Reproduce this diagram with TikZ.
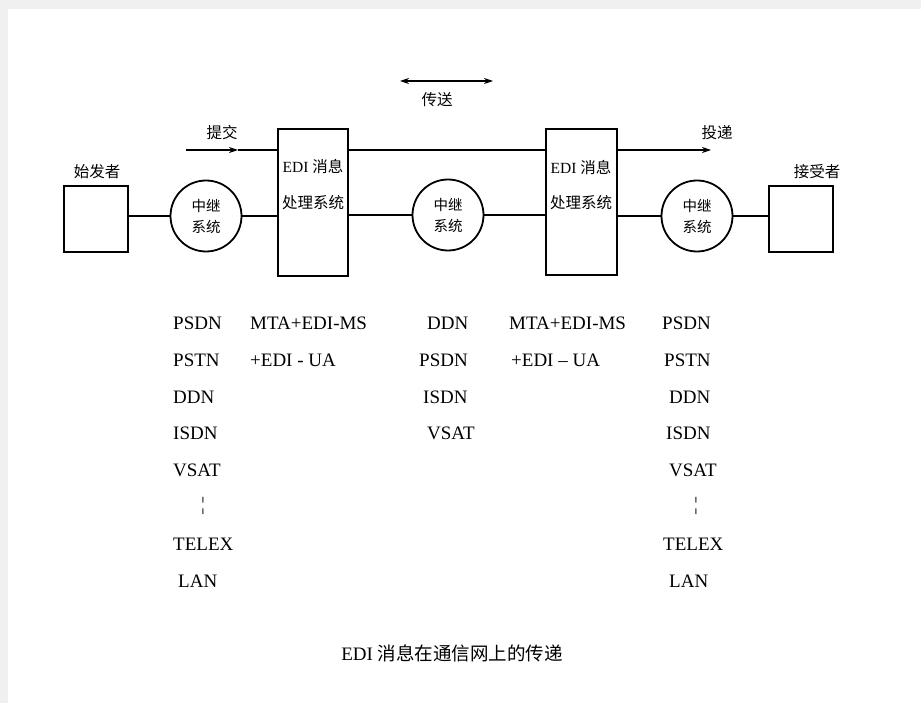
\documentclass[tikz,border=0pt]{standalone}
\usepackage{fontspec}
\setmainfont{Liberation Serif}
\newfontfamily\cjk{Noto Sans CJK SC}
\usetikzlibrary{arrows.meta}
\tikzset{
  boxthick/.style={draw, line width=2pt, inner sep=0pt},
  relay/.style={draw, circle, line width=1.8pt, minimum size=71pt, inner sep=0pt, align=center, font=\cjk\fontsize{14.5}{21}\selectfont},
  link/.style={line width=1.1pt},
  cjklabel/.style={font=\cjk\fontsize{15.5}{18}\selectfont, inner sep=0pt},
  coltext/.style={font=\fontsize{19}{22}\selectfont, anchor=west, inner sep=0pt},
  arr/.style={link, -{Stealth[length=9pt,width=6pt]}},
}
\begin{document}
\begin{tikzpicture}[x=1pt,y=-1pt]
\useasboundingbox (0,0) rectangle (921,703);
\fill[black!6] (0,0) rectangle (921,703);
\fill[white] (8,9) rectangle (921,703);

% end boxes
\node[boxthick, minimum width=64pt, minimum height=66pt] (a) at (96,219) {};
\node[boxthick, minimum width=64pt, minimum height=66pt] (r) at (801,219) {};
\node[cjklabel] (al) at (97,172) {始发者};
\node[cjklabel] (rl) at (817,172) {接受者};

% relay circles
\node[relay] (c1) at (206,216) {中继\\系统};
\node[relay] (c2) at (448,215) {中继\\系统};
\node[relay] (c3) at (697,216) {中继\\系统};

% EDI boxes
\node[boxthick, minimum width=70pt, minimum height=147pt] (b1) at (313,202.5) {};
\node[boxthick, minimum width=71pt, minimum height=146pt] (b2) at (581.5,202) {};
\node[cjklabel, font=\fontsize{15.5}{18}\selectfont] (b1t1) at (313,167) {EDI {\cjk 消息}};
\node[cjklabel] (b1t2) at (313,203) {处理系统};
\node[cjklabel, font=\fontsize{15.5}{18}\selectfont] (b2t1) at (581,168) {EDI {\cjk 消息}};
\node[cjklabel] (b2t2) at (581,203) {处理系统};

% lower links
\draw[link] (a.east |- c1.west) -- (c1.west);
\draw[link] (c1.east) -- (b1.west |- c1.east);
\draw[link] (b1.east |- c2.west) -- (c2.west);
\draw[link] (c2.east) -- (b2.west |- c2.east);
\draw[link] (b2.east |- c3.west) -- (c3.west);
\draw[link] (c3.east) -- (r.west |- c3.east);

% upper line with arrows
\coordinate (s1) at (186,150);
\coordinate (m1) at (238,150);
\coordinate (e1) at (711,150);
\draw[arr] (s1) -- (m1);
\draw[link] (m1) -- (b1.west |- m1);
\draw[link] (b1.east |- m1) -- (b2.west |- m1);
\draw[arr] (b2.east |- m1) -- (e1);
\node[cjklabel] (l1) at (222,133) {提交};
\node[cjklabel] (l2) at (717,133) {投递};

% transfer double arrow
\coordinate (t1) at (400,81);
\coordinate (t2) at (493,81);
\draw[link, {Stealth[length=9pt,width=6pt]}-{Stealth[length=9pt,width=6pt]}] (t1) -- (t2);
\node[cjklabel] (tl) at (437,100) {传送};

% columns
\node[coltext] (p1) at (173,323) {PSDN};
\node[coltext] (p2) at (173,360) {PSTN};
\node[coltext] (p3) at (173,397) {DDN};
\node[coltext] (p4) at (173,433) {ISDN};
\node[coltext] (p5) at (173,470) {VSAT};
\node[coltext] (p6) at (201,506) {¦};
\node[coltext] (p7) at (173,544) {TELEX};
\node[coltext] (p8) at (178,581) {LAN};

\node[coltext] (m11) at (250,323) {MTA+EDI-MS};
\node[coltext] (m12) at (250,360) {+EDI - UA};

\node[coltext] (d1) at (427,323) {DDN};
\node[coltext] (d2) at (419,360) {PSDN};
\node[coltext] (d3) at (423,397) {ISDN};
\node[coltext] (d4) at (427,433) {VSAT};

\node[coltext] (m21) at (509,323) {MTA+EDI-MS};
\node[coltext] (m22) at (511,360) {+EDI – UA};

\node[coltext] (q1) at (662,323) {PSDN};
\node[coltext] (q2) at (664,360) {PSTN};
\node[coltext] (q3) at (669,397) {DDN};
\node[coltext] (q4) at (666,433) {ISDN};
\node[coltext] (q5) at (669,470) {VSAT};
\node[coltext] (q6) at (694,506) {¦};
\node[coltext] (q7) at (663,544) {TELEX};
\node[coltext] (q8) at (669,581) {LAN};

% caption
\node[inner sep=0pt, font=\fontsize{19}{22}\selectfont] (cap) at (452,653) {EDI {\cjk\fontsize{18.5}{22}\selectfont 消息在通信网上的传递}};
\end{tikzpicture}
\end{document}
